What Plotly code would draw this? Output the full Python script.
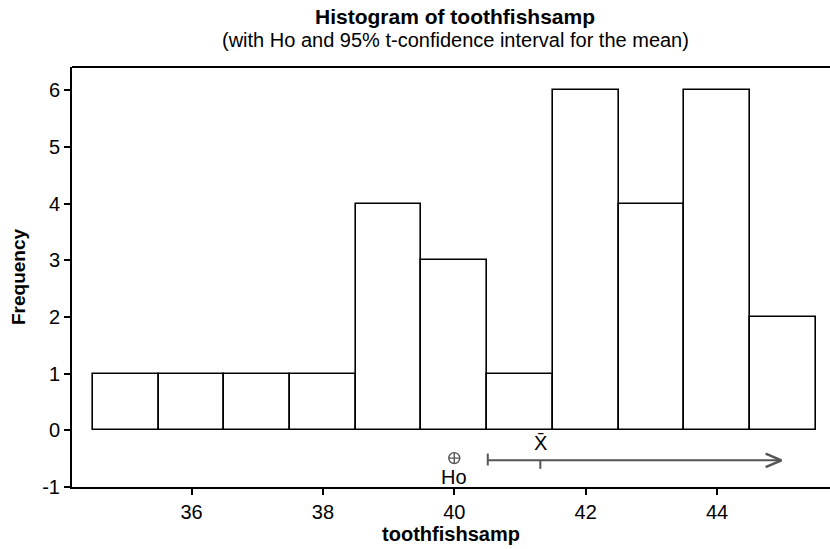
import plotly.graph_objects as go

# Data
bin_centers = [35, 36, 37, 38, 39, 40, 41, 42, 43, 44, 45]
counts = [1, 1, 1, 1, 4, 3, 1, 6, 4, 6, 2]
x_ticks = [36, 38, 40, 42, 44]
y_ticks = [-1, 0, 1, 2, 3, 4, 5, 6]
y_tick_text = ["-1", "0", "1", "2", "3", "4", "5", "6"]
h0 = 40.0
xbar = 41.31
ci_lower = 40.51
ci_arrow_end = 44.98
ci_y = -0.53

FONT = "Liberation Sans, Arial, Helvetica, sans-serif"
GRAY = "#555555"

fig = go.Figure()
fig.add_trace(go.Bar(
    x=bin_centers, y=counts, width=1,
    marker=dict(color="white", line=dict(color="black", width=1.6)),
    hoverinfo="x+y", showlegend=False,
))

# CI line
fig.add_trace(go.Scatter(x=[ci_lower, ci_arrow_end], y=[ci_y, ci_y], mode="lines",
                         line=dict(color=GRAY, width=2), showlegend=False, hoverinfo="skip"))
# lower end cap
fig.add_trace(go.Scatter(x=[ci_lower, ci_lower], y=[ci_y + 0.12, ci_y - 0.09], mode="lines",
                         line=dict(color=GRAY, width=2), showlegend=False, hoverinfo="skip"))
# xbar tick
fig.add_trace(go.Scatter(x=[xbar, xbar], y=[ci_y, ci_y - 0.15], mode="lines",
                         line=dict(color=GRAY, width=2), showlegend=False, hoverinfo="skip"))
# arrow head (open chevron)
fig.add_trace(go.Scatter(x=[ci_arrow_end - 0.24, ci_arrow_end, ci_arrow_end - 0.24],
                         y=[ci_y + 0.12, ci_y, ci_y - 0.12], mode="lines",
                         line=dict(color=GRAY, width=2.5), showlegend=False, hoverinfo="skip"))
# Ho marker
fig.add_trace(go.Scatter(x=[h0], y=[ci_y + 0.04], mode="markers",
                         marker=dict(symbol="circle-cross-open", size=11, color=GRAY, line=dict(width=1.4)),
                         showlegend=False, hoverinfo="skip"))

fig.add_annotation(x=h0, y=ci_y - 0.29, text="Ho", showarrow=False,
                   font=dict(family=FONT, size=20, color="black"))
fig.add_annotation(x=xbar, y=ci_y + 0.31, text="X\u0304", showarrow=False,
                   font=dict(family=FONT, size=20, color="black"))

fig.add_annotation(x=0.5, y=1, xref="paper", yref="paper", yanchor="middle", yshift=51, xshift=4,
                   text="<b>Histogram of toothfishsamp</b>", showarrow=False,
                   font=dict(family=FONT, size=21, color="black"))
fig.add_annotation(x=0.5, y=1, xref="paper", yref="paper", yanchor="middle", yshift=27, xshift=4,
                   text="(with Ho and 95% t-confidence interval for the mean)", showarrow=False,
                   font=dict(family=FONT, size=20, color="black"))

# top border line
fig.add_shape(type="line", xref="paper", yref="paper", x0=0, x1=1, y0=1, y1=1,
              line=dict(color="black", width=2))

fig.update_layout(
    width=830, height=549,
    margin=dict(l=72, r=0, t=67, b=62),
    paper_bgcolor="white", plot_bgcolor="white",
    font=dict(family=FONT, size=20, color="black"),
    bargap=0,
    xaxis=dict(range=[34.18, 45.72], tickvals=x_ticks, showgrid=False, zeroline=False,
               showline=True, linecolor="black", linewidth=2,
               ticks="outside", ticklen=6, tickwidth=1.5, tickcolor="black",
               tickfont=dict(family=FONT, size=20),
               title=dict(text="<b>toothfishsamp</b>", standoff=3,
                          font=dict(family=FONT, size=20))),
    yaxis=dict(range=[-1, 6.41], tickvals=y_ticks, ticktext=y_tick_text,
               showgrid=False, zeroline=False,
               showline=True, linecolor="black", linewidth=2,
               ticks="outside", ticklen=6, tickwidth=1.5, tickcolor="black",
               tickfont=dict(family=FONT, size=20),
               title=dict(text="<b>Frequency</b>", standoff=12,
                          font=dict(family=FONT, size=19))),
)

fig.write_html("out.html")
